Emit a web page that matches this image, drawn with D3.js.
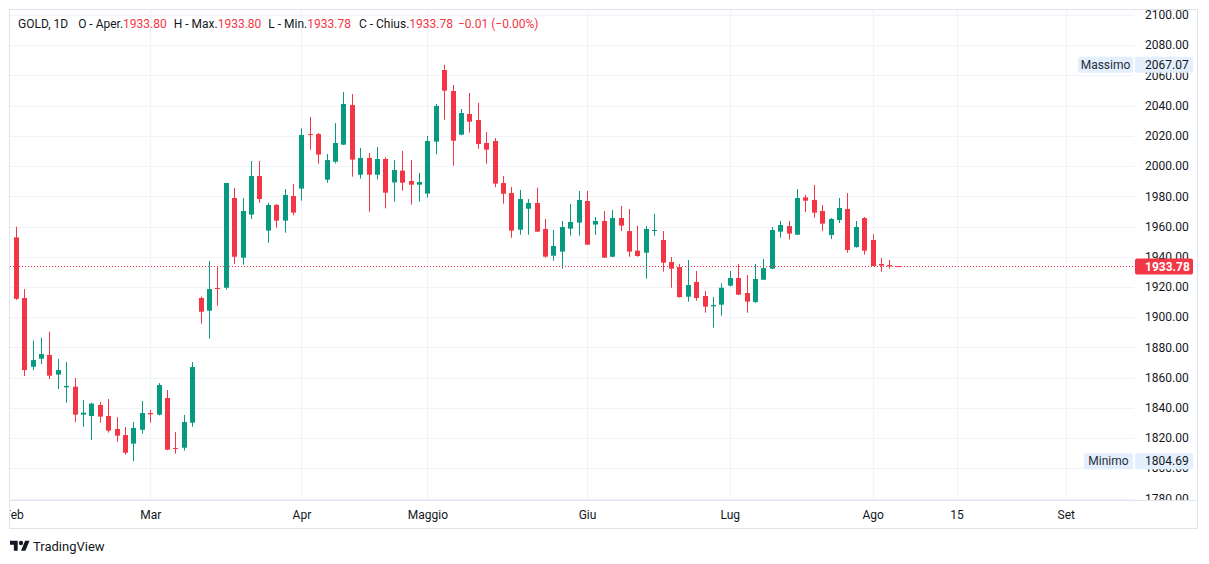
<!DOCTYPE html>
<html><head><meta charset="utf-8">
<script src="https://cdn.jsdelivr.net/npm/d3@7"></script>
<style>html,body{margin:0;padding:0;background:#fff;} svg{display:block;font-family:Roboto,"Noto Sans",sans-serif;}</style>
</head><body><svg id="c" width="1209" height="564"></svg>
<script>
// ---- data (bar index order) ----
const opens  = [1952.8,1912.7,1867.2,1872.5,1875.0,1862.0,1853.6,1854.0,1835.5,1834.6,1841.9,1834.6,1826.0,1822.0,1816.3,1825.5,1836.6,1835.5,1846.5,1813.4,1813.6,1830.2,1912.7,1904.3,1919.3,1919.5,1978.9,1939.4,1967.9,1993.4,1957.3,1974.3,1963.9,1980.2,1985.1,2021.2,2021.2,1991.0,2002.9,2014.2,2040.4,1994.3,2005.4,1994.3,2004.7,1989.2,1997.0,1990.1,1987.7,1981.8,2016.2,2063.6,2049.7,2020.8,2034.5,2030.5,2015.3,2016.6,1988.8,1982.2,1957.9,1971.8,1975.6,1958.4,1940.7,1943.4,1958.6,1962.6,1976.9,1961.3,1963.7,1940.0,1965.6,1957.0,1944.0,1942.7,1957.5,1951.1,1936.5,1933.2,1913.6,1923.3,1914.0,1907.2,1908.3,1920.9,1925.9,1916.0,1910.0,1924.8,1932.1,1956.6,1960.3,1954.6,1979.3,1977.6,1970.3,1954.4,1964.3,1971.6,1946.4,1965.6,1951.1,1935.2,1934.5,1933.80];
const highs  = [1959.9,1918.6,1884.5,1886.4,1890.4,1872.3,1870.3,1859.7,1845.2,1843.4,1843.9,1845.8,1833.9,1827.3,1830.6,1844.5,1838.6,1856.4,1851.8,1824.0,1835.3,1870.3,1913.6,1937.2,1933.9,1988.8,1985.5,1978.9,2003.4,2003.4,1975.8,1974.9,1984.8,1988.2,2025.0,2032.5,2021.9,2008.0,2028.5,2049.0,2047.7,2012.0,2008.7,2012.6,2005.8,2004.0,2010.0,2004.0,1995.5,2019.9,2041.1,2067.07,2053.7,2037.8,2048.4,2041.8,2022.6,2018.6,1993.4,1986.2,1984.2,1978.2,1985.7,1965.0,1957.7,1963.7,1974.9,1983.5,1983.5,1966.3,1970.3,1970.9,1973.6,1971.6,1960.6,1960.3,1968.5,1957.0,1939.8,1935.2,1937.8,1930.6,1917.3,1913.3,1922.4,1930.6,1935.2,1927.9,1935.2,1938.5,1959.7,1963.7,1963.7,1984.8,1980.9,1987.5,1974.2,1965.6,1978.9,1982.2,1963.7,1966.3,1955.0,1939.2,1937.8,1933.80];
const lows   = [1911.4,1861.1,1865.0,1869.0,1859.1,1852.5,1843.4,1830.6,1827.5,1818.7,1830.2,1823.6,1817.6,1809.0,1804.69,1822.9,1830.2,1835.0,1812.0,1809.7,1811.7,1827.5,1895.7,1885.8,1907.6,1918.4,1935.2,1934.8,1965.0,1975.8,1949.3,1959.3,1955.9,1967.4,1977.1,2010.9,2001.6,1989.0,2001.8,2014.0,1993.0,1991.7,1969.8,1991.2,1972.0,1976.5,1983.7,1974.5,1976.5,1979.1,2007.8,2030.7,2000.3,2020.4,2022.1,2011.5,2001.6,1986.0,1975.1,1952.6,1954.6,1954.6,1956.4,1939.4,1937.4,1932.1,1954.0,1954.0,1947.8,1954.5,1939.2,1939.8,1957.0,1940.0,1940.0,1925.5,1953.9,1930.1,1919.5,1912.9,1910.3,1910.9,1903.0,1893.1,1901.0,1920.2,1914.7,1903.0,1909.6,1924.6,1931.8,1952.6,1951.3,1954.4,1969.6,1965.9,1957.0,1951.7,1962.3,1942.7,1946.0,1941.4,1933.7,1930.1,1932.1,1933.78];
const closes = [1912.2,1865.0,1871.6,1875.6,1861.3,1865.0,1854.5,1835.5,1836.8,1842.8,1834.2,1824.9,1821.6,1810.3,1826.7,1836.6,1835.7,1855.1,1812.3,1813.0,1830.6,1867.0,1903.6,1918.6,1918.9,1988.8,1940.0,1970.3,1993.4,1978.2,1974.3,1963.9,1980.9,1969.2,2020.6,2020.8,2007.6,2004.0,2015.3,2041.1,2004.3,2005.4,1994.3,2004.7,1982.4,1997.4,1989.0,1987.7,1989.5,2016.6,2039.8,2049.9,2016.8,2035.1,2029.4,2014.6,2010.9,1988.4,1981.7,1957.3,1978.2,1975.6,1956.6,1940.1,1947.1,1959.7,1963.0,1977.6,1948.0,1963.7,1939.4,1965.6,1960.6,1943.4,1940.5,1958.4,1957.7,1936.1,1932.1,1913.3,1921.3,1912.7,1907.0,1908.1,1919.5,1925.9,1914.9,1910.3,1925.3,1932.5,1957.7,1961.0,1955.3,1978.9,1977.1,1969.2,1961.9,1965.0,1972.3,1944.5,1959.7,1944.0,1933.9,1934.1,1933.6,1933.78];
const timeLabels = ["Feb","Mar","Apr","Maggio","Giu","Lug","Ago","15","Set"];
const timeLabelBars = [-1,16,34,49,68,85,102,112,125];
const priceTicks = [1780,1800,1820,1840,1860,1880,1900,1920,1940,1960,1980,2000,2020,2040,2060,2080,2100];
const lastPrice = 1933.78;
const highestPrice = 2067.07;
const lowestPrice = 1804.69;
const legendParts = [
  ["GOLD, 1D", "#131722", 0], ["O - Aper.", "#131722", 10], ["1933.80", "#F23645", 0],
  ["H - Max.", "#131722", 7], ["1933.80", "#F23645", 0],
  ["L - Min.", "#131722", 7], ["1933.78", "#F23645", 0],
  ["C - Chius.", "#131722", 8], ["1933.78", "#F23645", 0],
  ["\u22120.01 (\u22120.00%)", "#F23645", 5]
];

// ---- layout ----
const UP = "#089981", DOWN = "#F23645", GRID = "#f0f3fa", BORDER = "#e0e3eb", TXT = "#131722";
const pane = {l: 10, t: 10, r: 1134, b: 500};
const svg = d3.select("#c");
const x = d3.scaleLinear().domain([-0.75, 133.06]).range([pane.l, pane.r]);
const y = d3.scaleLinear().domain([1780, 2100]).range([498.5, 15]);

const defs = svg.append("defs");
defs.append("clipPath").attr("id","paneClip").append("rect").attr("x",pane.l).attr("y",pane.t).attr("width",pane.r-pane.l).attr("height",pane.b-pane.t);
defs.append("clipPath").attr("id","axisClip").append("rect").attr("x",pane.r).attr("y",pane.t).attr("width",1197-pane.r).attr("height",pane.b-pane.t);
defs.append("clipPath").attr("id","timeClip").append("rect").attr("x",pane.l).attr("y",pane.b).attr("width",1197-pane.l).attr("height",28);

// grid
const g = svg.append("g").attr("clip-path","url(#paneClip)");
g.selectAll("line.h").data(priceTicks).join("line")
  .attr("x1",pane.l).attr("x2",pane.r)
  .attr("y1",d=>Math.round(y(d))+0.5).attr("y2",d=>Math.round(y(d))+0.5)
  .attr("stroke",GRID).attr("stroke-width",1);
g.selectAll("line.v").data(timeLabelBars).join("line")
  .attr("x1",d=>Math.floor(x(d))+0.5).attr("x2",d=>Math.floor(x(d))+0.5)
  .attr("y1",pane.t).attr("y2",pane.b)
  .attr("stroke",GRID).attr("stroke-width",1);

// candles
const bars = d3.range(opens.length).map(i => ({i, o:opens[i], h:highs[i], l:lows[i], c:closes[i]}));
const cg = g.append("g");
const col = d => d.c >= d.o && !(d.i===bars.length-1) ? UP : DOWN;
cg.selectAll("rect.w").data(bars).join("rect")
  .attr("x",d=>Math.floor(x(d.i))).attr("width",1)
  .attr("y",d=>y(d.h)).attr("height",d=>Math.max(1,y(d.l)-y(d.h)))
  .attr("fill",col);
cg.selectAll("rect.b").data(bars).join("rect")
  .attr("x",d=>Math.floor(x(d.i))-2).attr("width",5)
  .attr("y",d=>y(Math.max(d.o,d.c))).attr("height",d=>Math.max(1,Math.abs(y(d.o)-y(d.c))))
  .attr("fill",col);

// last price dotted line
const ly = Math.round(y(lastPrice))+0.5;
g.append("line").attr("x1",pane.l).attr("x2",pane.r).attr("y1",ly).attr("y2",ly)
  .attr("stroke",DOWN).attr("stroke-width",1).attr("stroke-dasharray","1 2");

// borders
svg.append("rect").attr("x",9.5).attr("y",9.5).attr("width",1188).attr("height",519)
  .attr("fill","none").attr("stroke",BORDER);
svg.append("line").attr("x1",10).attr("x2",1197).attr("y1",500.5).attr("y2",500.5).attr("stroke",BORDER);

// price axis labels
const pa = svg.append("g").attr("clip-path","url(#axisClip)");
pa.selectAll("text").data(priceTicks).join("text")
  .attr("x",1145).attr("y",d=>y(d)).attr("dy","0.35em")
  .attr("font-size",12).attr("fill",TXT).text(d=>d.toFixed(2));

// high / low labels
function hlLabel(name, val, nameW){
  const cy = y(val);
  const gg = svg.append("g");
  gg.append("rect").attr("x",1133-nameW).attr("y",cy-8).attr("width",nameW).attr("height",16).attr("rx",2).attr("fill","#e3effd");
  gg.append("rect").attr("x",1135).attr("y",cy-8).attr("width",58).attr("height",16).attr("rx",2).attr("fill","#e3effd");
  gg.append("text").attr("x",1133-nameW/2).attr("y",cy).attr("dy","0.35em").attr("text-anchor","middle")
    .attr("font-size",12).attr("fill","#2a2e39").text(name);
  gg.append("text").attr("x",1145).attr("y",cy).attr("dy","0.35em")
    .attr("font-size",12).attr("fill",TXT).text(val.toFixed(2));
}
hlLabel("Massimo", highestPrice, 55);
hlLabel("Minimo", lowestPrice, 49);

// last price label
svg.append("rect").attr("x",1135).attr("y",ly-8).attr("width",58).attr("height",16).attr("rx",2).attr("fill",DOWN);
svg.append("text").attr("x",1145).attr("y",ly).attr("dy","0.35em").attr("font-size",12)
  .attr("font-weight","bold").attr("fill","#fff").text(lastPrice.toFixed(2));

// time axis labels
const ta = svg.append("g").attr("clip-path","url(#timeClip)");
ta.selectAll("text").data(timeLabels).join("text")
  .attr("x",(d,i)=>Math.max(x(timeLabelBars[i]), 14)).attr("y",515).attr("dy","0.35em")
  .attr("text-anchor","middle").attr("font-size",12).attr("fill",TXT).text(d=>d);

// legend
const lg = svg.append("text").attr("x",18).attr("y",24).attr("dy","0.35em").attr("font-size",12);
legendParts.forEach(p => lg.append("tspan").attr("dx",p[2]).attr("fill",p[1]).text(p[0]));

// TradingView logo
const logo = svg.append("g").attr("transform","translate(10,538.6) scale(0.55)").attr("fill",TXT);
logo.append("path").attr("d","M14 22H7V11H0V4h14v18zM28 22h-8l7.5-18h8L28 22z");
logo.append("circle").attr("cx",20).attr("cy",8).attr("r",4);
svg.append("text").attr("x",33).attr("y",546).attr("dy","0.35em").attr("font-size",13).attr("fill",TXT).text("TradingView");
</script></body></html>
